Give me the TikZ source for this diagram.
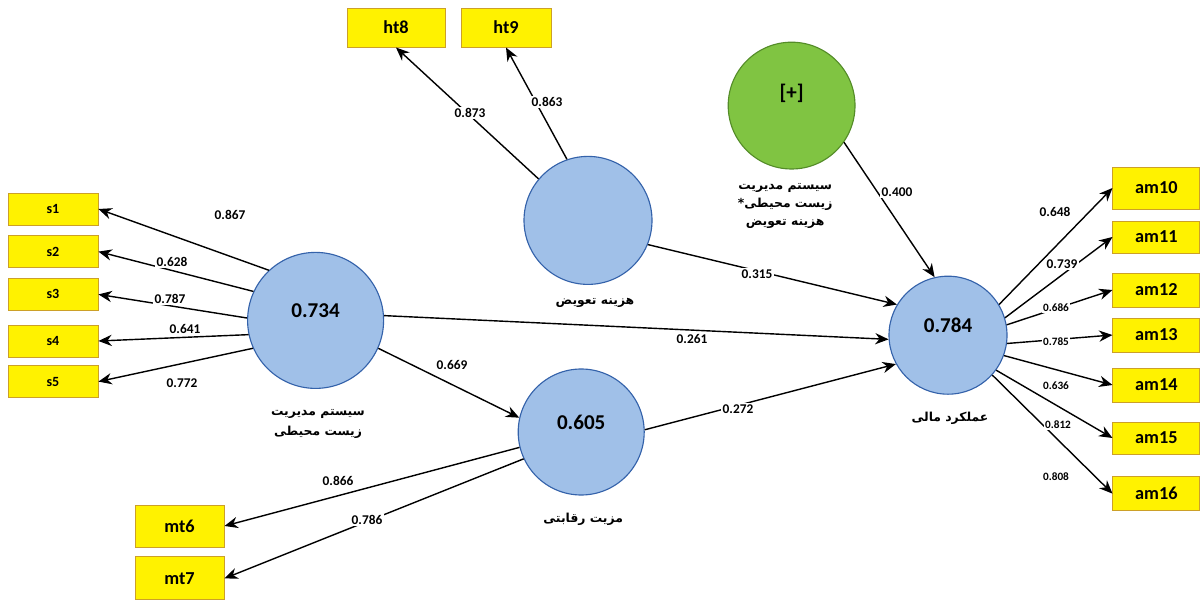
\documentclass[tikz,border=0pt]{standalone}
\usepackage{fontspec}
\setmainfont{Carlito}
\newfontfamily\farsi[Script=Arabic]{DejaVu Sans}
\TeXXeTstate=1
\usepackage{xcolor}
\usetikzlibrary{arrows.meta,positioning,shapes.geometric}

\definecolor{boxyellow}{RGB}{255,242,0}
\definecolor{boxedge}{RGB}{204,160,40}
\definecolor{lvblue}{RGB}{160,192,232}
\definecolor{lvedge}{RGB}{52,98,170}
\definecolor{modgreen}{RGB}{128,196,66}
\definecolor{modedge}{RGB}{84,140,40}

\begin{document}
\begin{tikzpicture}[
    indicator/.style={draw=boxedge, fill=boxyellow, minimum width=2.2cm, minimum height=0.85cm, inner sep=0pt, line width=0.6pt, font=\fontsize{13}{15}\selectfont\bfseries},
    sbox/.style={indicator, minimum width=2.25cm, minimum height=0.8cm, font=\fontsize{10}{12}\selectfont\bfseries},
    latent/.style={circle, draw=lvedge, fill=lvblue, line width=0.8pt, inner sep=0pt},
    val/.style={font=\fontsize{15}{18}\selectfont\bfseries, yshift=7pt},
    plabel/.style={font=\farsi\bfseries\fontsize{8.8}{14}\selectfont, align=center},
    coef/.style={font=\fontsize{9.5}{11}\selectfont\bfseries, fill=white, inner sep=1pt},
    smallcoef/.style={coef, font=\fontsize{8}{10}\selectfont\bfseries},
    arrow/.style={->, >={Stealth[length=9.5pt,width=8pt]}, line width=1pt}
]
    \useasboundingbox[fill=white] (0,0) rectangle (30.075,15.15);

    % Latent variables
    \node[latent, minimum size=3.4cm, label={[val]center:0.734}] (env) at (7.89,7.14) {};
    \node[latent, minimum size=3.2cm] (cost) at (14.7,9.64) {};
    \node[latent, minimum size=3.15cm, label={[val]center:0.605}] (comp) at (14.53,4.35) {};
    \node[latent, minimum size=2.95cm, label={[val]center:0.784}] (fin) at (23.7,6.77) {};
    \node[circle, draw=modedge, fill=modgreen, line width=0.8pt, minimum size=3.17cm, label={[val, yshift=2pt]center:[+]}] (mod) at (19.79,12.51) {};

    % Names
    \node[plabel] (envl) at (7.95,4.55) {\beginR سیستم مدیریت\endR\\\beginR زیست محیطی\endR};
    \node[plabel] (costl) at (14.875,7.57) {\beginR هزینه تعویض\endR};
    \node[plabel] (compl) at (14.58,2.17) {\beginR مزیت رقابتی\endR};
    \node[plabel] (finl) at (23.75,4.7) {\beginR عملکرد مالی\endR};
    \node[plabel, font=\farsi\bfseries\fontsize{8.8}{12.5}\selectfont] (modl) at (19.63,10.0) {\beginR سیستم مدیریت\endR\\\beginR زیست محیطی*\endR\\\beginR هزینه تعویض\endR};

    % Indicators
    \node[sbox] (s1) at (1.325,9.925) {s1};
    \node[sbox] (s2) at (1.325,8.86) {s2};
    \node[sbox] (s3) at (1.325,7.79) {s3};
    \node[sbox] (s4) at (1.325,6.625) {s4};
    \node[sbox] (s5) at (1.325,5.61) {s5};
    \node[indicator, minimum width=2.45cm, minimum height=0.975cm] (ht8) at (9.9,14.46) {ht8};
    \node[indicator, minimum width=2.25cm, minimum height=0.975cm] (ht9) at (12.65,14.46) {ht9};
    \node[indicator, minimum width=2.225cm, minimum height=1.05cm] (mt6) at (4.49,2.0) {mt6};
    \node[indicator, minimum width=2.225cm, minimum height=1.075cm] (mt7) at (4.49,0.69) {mt7};
    \node[indicator, minimum width=2.175cm, minimum height=1.05cm] (am10) at (28.91,10.45) {am10};
    \node[indicator, minimum width=2.175cm, minimum height=0.8cm] (am11) at (28.91,9.225) {am11};
    \node[indicator, minimum width=2.175cm] (am12) at (28.91,7.9) {am12};
    \node[indicator, minimum width=2.175cm] (am13) at (28.91,6.775) {am13};
    \node[indicator, minimum width=2.175cm] (am14) at (28.91,5.525) {am14};
    \node[indicator, minimum width=2.175cm, minimum height=0.8cm] (am15) at (28.91,4.2) {am15};
    \node[indicator, minimum width=2.175cm] (am16) at (28.91,2.81) {am16};

    % Outer loadings
    \draw[arrow] (env.133) -- (s1.east);
    \draw[arrow] (env.155) -- (s2.east);
    \draw[arrow] (env.178) -- (s3.east);
    \draw[arrow] (env.192) -- (s4.east);
    \draw[arrow] (env.204) -- (s5.east);
    \draw[arrow] (cost.140) -- (ht8.south);
    \draw[arrow] (cost.109) -- (ht9.south);
    \draw[arrow] (comp.194) -- (mt6.east);
    \draw[arrow] (comp.205) -- (mt7.east);
    \draw[arrow] (fin.31) -- (am10.west);
    \draw[arrow] (fin.17) -- (am11.west);
    \draw[arrow] (fin.10) -- (am12.west);
    \draw[arrow] (fin.-8) -- (am13.west);
    \draw[arrow] (fin.-20) -- (am14.west);
    \draw[arrow] (fin.-36) -- (am15.west);
    \draw[arrow] (fin.-42) -- (am16.west);

    % Paths
    \draw[arrow] (env.-24) -- (comp.167);
    \draw[arrow] (env.4) -- (fin.184);
    \draw[arrow] (cost.-22) -- (fin.149);
    \draw[arrow] (comp.2) -- (fin.209);
    \draw[arrow] (mod.-35) -- (fin.103);

    % Coefficients
    \node[coef] (c1) at (5.75,9.775) {0.867};
    \node[coef] (c2) at (4.3,8.6) {0.628};
    \node[coef] (c3) at (4.25,7.675) {0.787};
    \node[coef] (c4) at (4.625,6.925) {0.641};
    \node[coef] (c5) at (4.55,5.575) {0.772};
    \node[coef] (c8) at (11.75,12.325) {0.873};
    \node[coef] (c9) at (13.675,12.6) {0.863};
    \node[coef] (c6) at (8.45,3.125) {0.866};
    \node[coef] (c7) at (9.175,2.15) {0.786};
    \node[coef] (c10) at (26.375,9.85) {0.648};
    \node[coef] (c11) at (26.55,8.55) {0.739};
    \node[smallcoef] (c12) at (26.4,7.45) {0.686};
    \node[smallcoef] (c13) at (26.4,6.6) {0.785};
    \node[smallcoef] (c14) at (26.4,5.5) {0.636};
    \node[smallcoef] (c15) at (26.45,4.525) {0.812};
    \node[smallcoef] (c16) at (26.4,3.225) {0.808};
    \node[coef] (p1) at (11.3,6.025) {0.669};
    \node[coef] (p2) at (17.3,6.675) {0.261};
    \node[coef] (p3) at (18.925,8.3) {0.315};
    \node[coef] (p4) at (18.45,4.925) {0.272};
    \node[coef] (p5) at (22.425,10.35) {0.400};
\end{tikzpicture}
\end{document}
